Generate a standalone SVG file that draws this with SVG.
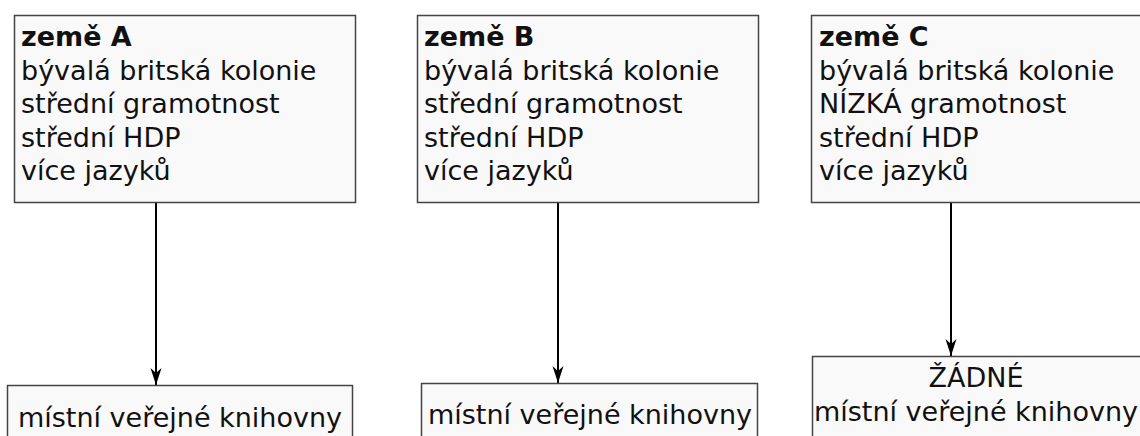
<svg xmlns="http://www.w3.org/2000/svg" width="1140" height="436" viewBox="0 0 1140 436">
  <style>
    .box { fill: #f9f9f9; stroke: #444; stroke-width: 1.5; }
    .txt { font-family: "DejaVu Sans", Verdana, sans-serif; font-size: 27px; fill: #111; }
    .title { font-weight: bold; }
    .mid { text-anchor: middle; }
    .edge { stroke: #000; stroke-width: 2; fill: none; }
  </style>
  <defs>
    <marker id="arrow" viewBox="0 0 18 12" refX="17" refY="6" markerWidth="18" markerHeight="12" markerUnits="userSpaceOnUse" orient="auto">
      <path d="M0,0.5 L17,6 L0,11.5 L5,6 Z" fill="#000"/>
    </marker>
  </defs>
  <rect width="1140" height="436" fill="#ffffff"/>

  <!-- connectors -->
  <g id="connectors">
    <line class="edge" x1="156" y1="202" x2="156" y2="385" marker-end="url(#arrow)"/>
    <line class="edge" x1="558" y1="202" x2="558" y2="383" marker-end="url(#arrow)"/>
    <line class="edge" x1="951" y1="202" x2="951" y2="356" marker-end="url(#arrow)"/>
  </g>

  <!-- country A -->
  <g id="country-a">
    <rect class="box" x="14.5" y="15.5" width="341" height="187"/>
    <text class="txt" x="21" y="46"><tspan class="title">země A</tspan><tspan x="21" dy="33.5">bývalá britská kolonie</tspan><tspan x="21" dy="33.5">střední gramotnost</tspan><tspan x="21" dy="33.5">střední HDP</tspan><tspan x="21" dy="33.5">více jazyků</tspan></text>
  </g>

  <!-- country B -->
  <g id="country-b">
    <rect class="box" x="417.5" y="15.5" width="341" height="187"/>
    <text class="txt" x="424" y="46"><tspan class="title">země B</tspan><tspan x="424" dy="33.5">bývalá britská kolonie</tspan><tspan x="424" dy="33.5">střední gramotnost</tspan><tspan x="424" dy="33.5">střední HDP</tspan><tspan x="424" dy="33.5">více jazyků</tspan></text>
  </g>

  <!-- country C -->
  <g id="country-c">
    <rect class="box" x="811.5" y="15.5" width="340" height="187"/>
    <text class="txt" x="819" y="46"><tspan class="title">země C</tspan><tspan x="819" dy="33.5">bývalá britská kolonie</tspan><tspan x="819" dy="33.5">NÍZKÁ gramotnost</tspan><tspan x="819" dy="33.5">střední HDP</tspan><tspan x="819" dy="33.5">více jazyků</tspan></text>
  </g>

  <!-- libraries A -->
  <g id="libraries-a">
    <rect class="box" x="7.5" y="385.5" width="345" height="60"/>
    <text class="txt mid" x="180" y="427">místní veřejné knihovny</text>
  </g>

  <!-- libraries B -->
  <g id="libraries-b">
    <rect class="box" x="421.5" y="383.5" width="336" height="60"/>
    <text class="txt mid" x="590" y="424">místní veřejné knihovny</text>
  </g>

  <!-- libraries C -->
  <g id="libraries-c">
    <rect class="box" x="812.5" y="356.5" width="340" height="90"/>
    <text class="txt mid" x="976" y="387">ŽÁDNÉ<tspan x="976" dy="33.5">místní veřejné knihovny</tspan></text>
  </g>
</svg>
